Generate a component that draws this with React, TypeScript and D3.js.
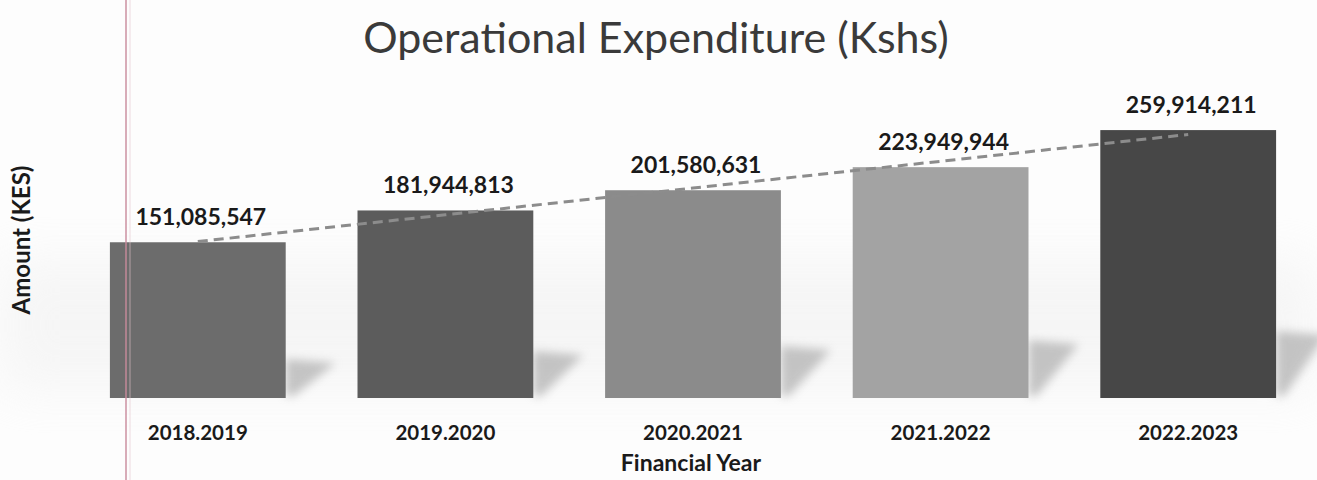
import React from "react";
import * as d3 from "d3";

const categories = ["2018.2019", "2019.2020", "2020.2021", "2021.2022", "2022.2023"];
const values = [151085547, 181944813, 201580631, 223949944, 259914211];
const barColors = ["#6c6c6c", "#5c5c5c", "#8b8b8b", "#a3a3a3", "#474747"];

const W = 1317;
const H = 480;

export default function App() {
  const x = d3.scaleBand<string>().domain(categories).range([74, 1312]).paddingInner(0.29).paddingOuter(0.145);
  const y = d3.scaleLinear().domain([0, 260000000]).range([398, 130]);
  const fmt = d3.format(",");

  // linear trendline (least squares) through the series
  const idx = values.map((_, i) => i);
  const mx = d3.mean(idx)!;
  const my = d3.mean(values)!;
  const slope = d3.sum(idx, (i) => (i - mx) * (values[i] - my)) / d3.sum(idx, (i) => (i - mx) ** 2);
  const icpt = my - slope * mx;
  const cx = (c: string) => x(c)! + x.bandwidth() / 2;
  const trend = d3.line<number>()
    .x((i) => cx(categories[i]))
    .y((i) => y(icpt + slope * i));

  const font = "Lato, 'Open Sans', sans-serif";

  return (
    <svg width={W} height={H} style={{ position: "absolute", left: 0, top: 0, background: "#fff" }}>
      <defs>
        <filter id="blur" x="-50%" y="-50%" width="200%" height="200%">
          <feGaussianBlur stdDeviation="5" />
        </filter>
        <filter id="haze" x="-20%" y="-50%" width="140%" height="200%">
          <feGaussianBlur stdDeviation="25" />
        </filter>
      </defs>
      <rect x={0} y={0} width={W} height={H} fill="#fdfdfd" />
      <rect x={0} y={260} width={W} height={130} fill="#ededed" opacity={0.45} filter="url(#haze)" />
      {/* shadows */}
      {categories.map((c, i) => {
        const r = x(c)! + x.bandwidth();
        const b = y(0);
        const d = (y(0) - y(values[i])) * 0.25;
        const pts = [
          [r, b - 2],
          [r, b - d],
          [r + 50, b - d + 4],
          [r + 8, b - 2],
        ];
        return (
          <polygon key={"s" + c} points={pts.map((p) => p.join(",")).join(" ")} fill="#9a9a9a" opacity={0.55} filter="url(#blur)" />
        );
      })}
      {/* bars */}
      {categories.map((c, i) => (
        <rect key={c} x={x(c)} y={y(values[i])} width={x.bandwidth()} height={y(0) - y(values[i])} fill={barColors[i]} />
      ))}
      {/* trendline */}
      <path d={trend(idx) || ""} fill="none" stroke="#8c8c8c" strokeWidth={3} strokeDasharray="10,6" />
      {/* value labels */}
      {categories.map((c, i) => (
        <text key={"v" + c} x={cx(c) + 3} y={y(values[i]) - 17} textAnchor="middle" fontFamily={font} fontWeight="bold" fontSize={23} fill="#1a1a1a">
          {fmt(values[i])}
        </text>
      ))}
      {/* category labels */}
      {categories.map((c) => (
        <text key={"c" + c} x={cx(c)} y={440} textAnchor="middle" fontFamily={font} fontWeight="bold" fontSize={20.5} fill="#1a1a1a">
          {c}
        </text>
      ))}
      <text x={691} y={471} textAnchor="middle" fontFamily={font} fontWeight="bold" fontSize={23} fill="#1a1a1a">
        Financial Year
      </text>
      <text transform="translate(30,240) rotate(-90)" textAnchor="middle" fontFamily={font} fontWeight="bold" fontSize={24} fill="#1a1a1a">
        Amount (KES)
      </text>
      <text x={656} y={53} textAnchor="middle" fontFamily={font} fontSize={43} fill="#3a3a3a">
        Operational Expenditure (Kshs)
      </text>
      {/* scan artifact line */}
      <line x1={126} y1={0} x2={126} y2={H} stroke="#c98a9c" strokeWidth={2} opacity={0.7} />
      <line x1={130} y1={0} x2={130} y2={H} stroke="#e3c3cc" strokeWidth={1} opacity={0.6} />
    </svg>
  );
}
